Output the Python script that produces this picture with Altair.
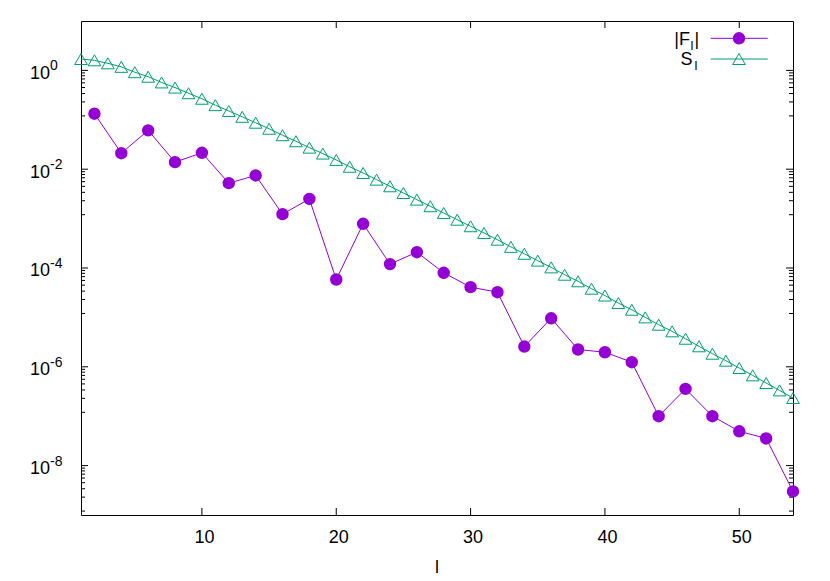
import altair as alt
import pandas as pd

# ---------------- data ----------------
l_F = list(range(2, 55, 2))
F_vals = [0.133, 0.0211, 0.061, 0.0139, 0.0215, 0.00522, 0.00747, 0.00123, 0.0025,
          5.85e-5, 7.85e-4, 1.2e-4, 2.09e-4, 8.0e-5, 4.1e-5, 3.24e-5, 2.57e-6,
          9.6e-6, 2.24e-6, 1.97e-6, 1.24e-6, 1.0e-7, 3.57e-7, 1.0e-7, 4.95e-8,
          3.55e-8, 3.0e-9]

l_S = list(range(1, 55))
S_vals = [1.7, 1.6, 1.39, 1.18, 0.92, 0.745, 0.571, 0.449, 0.345, 0.267,
          0.198, 0.151, 0.115, 0.0873, 0.0659, 0.0487, 0.0368, 0.0273, 0.0207, 0.0154,
          0.0112, 0.00839, 0.00614, 0.00451, 0.00330, 0.00242, 0.00178, 0.00130, 0.00095, 0.000700,
          0.000512, 0.000374, 0.000268, 0.000194, 0.000141, 0.000103, 7.31e-5, 5.38e-5, 3.81e-5, 2.77e-5,
          1.95e-5, 1.43e-5, 1.00e-5, 7.11e-6, 5.22e-6, 3.70e-6, 2.60e-6, 1.84e-6, 1.33e-6, 9.43e-7,
          6.71e-7, 4.69e-7, 3.33e-7, 2.33e-7]

x_ticks = [10, 20, 30, 40, 50]
y_major_exp = [0, -2, -4, -6, -8]

# ---------------- styling ----------------
W, H = 712, 494
FONT = "Liberation Sans"
PURPLE = "#9400d3"
GREEN = "#009e73"

xs = alt.Scale(domain=[1, 54], nice=False, zero=False)
ys = alt.Scale(type="log", domain=[1e-9, 10], nice=False)

dfF = pd.DataFrame({"l": l_F, "v": F_vals})
dfS = pd.DataFrame({"l": l_S, "v": S_vals})

X = alt.X("l:Q", scale=xs, axis=None)
Y = alt.Y("v:Q", scale=ys, axis=None)

lineF = alt.Chart(dfF).mark_line(color=PURPLE, strokeWidth=1).encode(x=X, y=Y)
ptsF = alt.Chart(dfF).mark_point(shape="circle", filled=True, color=PURPLE,
                                 size=154, opacity=1).encode(x=X, y=Y)
lineS = alt.Chart(dfS).mark_line(color=GREEN, strokeWidth=1).encode(x=X, y=Y)
ptsS = alt.Chart(dfS).mark_point(shape="triangle-up", filled=False, color=GREEN,
                                 size=161, strokeWidth=1, opacity=1).encode(x=X, y=Y)

# ---------------- ticks (gnuplot style, inward, mirrored) ----------------
ymaj = pd.DataFrame({"v": [10.0 ** e for e in y_major_exp],
                     "e": [str(e) for e in y_major_exp]})
minor = []
for e in y_major_exp + [2]:
    lo, hi = 10.0 ** (e - 2), 10.0 ** e
    for i in range(1, 9):
        t = lo + i * (hi - lo) / 9
        if 1e-9 <= t <= 10:
            minor.append(t)
ymin = pd.DataFrame({"v": minor})
xt = pd.DataFrame({"l": x_ticks})

TC = "black"
ticks = [
    alt.Chart(ymaj).mark_rule(color=TC, strokeWidth=1).encode(y=Y, x=alt.value(0), x2=alt.value(7)),
    alt.Chart(ymaj).mark_rule(color=TC, strokeWidth=1).encode(y=Y, x=alt.value(W - 7), x2=alt.value(W)),
    alt.Chart(ymin).mark_rule(color=TC, strokeWidth=1).encode(y=Y, x=alt.value(0), x2=alt.value(4)),
    alt.Chart(ymin).mark_rule(color=TC, strokeWidth=1).encode(y=Y, x=alt.value(W - 4), x2=alt.value(W)),
    alt.Chart(xt).mark_rule(color=TC, strokeWidth=1).encode(x=X, y=alt.value(H), y2=alt.value(H - 7)),
    alt.Chart(xt).mark_rule(color=TC, strokeWidth=1).encode(x=X, y=alt.value(0), y2=alt.value(7)),
]

# ---------------- tick labels ----------------
ylab_base = alt.Chart(ymaj).mark_text(text="10", align="right", baseline="alphabetic",
                                      dy=8.3, fontSize=18, font=FONT, color="black").encode(
    y=Y, x=alt.value(-31))
ylab_exp = alt.Chart(ymaj).mark_text(align="left", baseline="alphabetic", dy=0,
                                     fontSize=14, font=FONT, color="black").encode(
    y=Y, x=alt.value(-31), text="e:N")
xlab = alt.Chart(xt).mark_text(baseline="alphabetic", dx=2.5, fontSize=18, font=FONT,
                               color="black").encode(x=X, y=alt.value(H + 28.3), text="l:Q")
one = pd.DataFrame({"a": [0]})
xtitle = alt.Chart(one).mark_text(text="l", baseline="alphabetic", fontSize=18, font=FONT,
                                  color="black").encode(x=alt.value(W / 2), y=alt.value(552))

# ---------------- legend ----------------
leg = [
    alt.Chart(one).mark_text(text="|F", align="right", baseline="alphabetic", fontSize=18,
                             font=FONT, color="black").encode(x=alt.value(609), y=alt.value(24)),
    alt.Chart(one).mark_text(text="l", align="left", baseline="alphabetic", fontSize=13,
                             font=FONT, color="black").encode(x=alt.value(609.5), y=alt.value(29)),
    alt.Chart(one).mark_text(text="|", align="left", baseline="alphabetic", fontSize=18,
                             font=FONT, color="black").encode(x=alt.value(613.5), y=alt.value(24)),
    alt.Chart(one).mark_text(text="S", align="right", baseline="alphabetic", fontSize=18,
                             font=FONT, color="black").encode(x=alt.value(611.5), y=alt.value(44)),
    alt.Chart(one).mark_text(text="l", align="left", baseline="alphabetic", fontSize=13,
                             font=FONT, color="black").encode(x=alt.value(613.5), y=alt.value(49)),
    alt.Chart(one).mark_rule(color=PURPLE, strokeWidth=1).encode(
        x=alt.value(629.7), x2=alt.value(686.7), y=alt.value(17.3)),
    alt.Chart(one).mark_point(shape="circle", filled=True, color=PURPLE, size=154, opacity=1).encode(
        x=alt.value(658), y=alt.value(17.3)),
    alt.Chart(one).mark_rule(color=GREEN, strokeWidth=1).encode(
        x=alt.value(629.7), x2=alt.value(686.7), y=alt.value(38)),
    alt.Chart(one).mark_point(shape="triangle-up", filled=False, color=GREEN, size=161,
                              strokeWidth=1, opacity=1).encode(x=alt.value(658), y=alt.value(38)),
]

chart = alt.layer(
    *ticks, lineF, ptsF, lineS, ptsS, ylab_base, ylab_exp, xlab, xtitle, *leg
).properties(
    width=W, height=H, autosize=alt.AutoSizeParams(type="none"),
    padding={"left": 73, "top": 13, "right": 20, "bottom": 62},
).configure_view(stroke="black", strokeWidth=1)

chart.save("out.html", embed_options={"renderer": "svg", "actions": False})
